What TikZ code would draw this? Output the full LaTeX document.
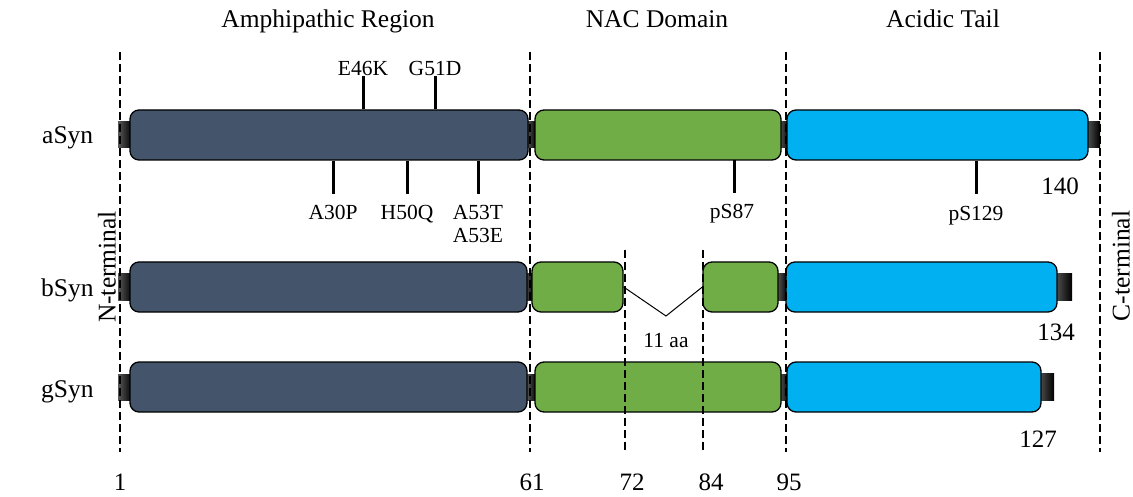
\documentclass[tikz,border=0pt]{standalone}
\usepackage{fontspec}
\setmainfont{Liberation Serif}
\usetikzlibrary{calc}
\definecolor{slate}{HTML}{44546A}
\definecolor{nacgreen}{HTML}{70AD47}
\definecolor{tailblue}{HTML}{00B0F0}
\begin{document}
\begin{tikzpicture}[x=1pt,y=-1pt,
  bar/.style={draw=black, line width=1.3pt, rounded corners=9pt, inner sep=0pt, minimum height=50pt},
  capbox/.style={inner sep=0pt, minimum height=26pt, left color=black!65, right color=black, draw=none},
  ticker/.style={line width=3pt},
  vline/.style={dash pattern=on 8pt off 4pt, line width=1.8pt},
  big/.style={font=\fontsize{25.5}{30}\selectfont, inner sep=0pt},
  num/.style={font=\fontsize{25}{30}\selectfont, inner sep=0pt, anchor=base},
  small/.style={font=\fontsize{21.5}{23}\selectfont, inner sep=0pt, anchor=base},
]
\useasboundingbox (0,0) rectangle (1133,497);

% headers
\node[big, anchor=base] (hA) at (328,28) {Amphipathic Region};
\node[big, anchor=base] (hN) at (657,28) {NAC Domain};
\node[big, anchor=base] (hT) at (943,28) {Acidic Tail};

% row labels
\node[big, anchor=base west] (la) at (42,144) {aSyn};
\node[big, anchor=base west] (lb) at (41,297) {bSyn};
\node[big, anchor=base west] (lg) at (41,397) {gSyn};

% aSyn
\node[capbox, minimum width=14pt] (aL) at (125,135) {};
\node[capbox, minimum width=10pt] (aC1) at (531.5,135) {};
\node[capbox, minimum width=10pt] (aC2) at (784,135) {};
\node[capbox, minimum width=14pt] (aR) at (1093,135) {};
\node[bar, fill=slate, minimum width=398pt] (a1) at (329,135) {};
\node[bar, fill=nacgreen, minimum width=246pt] (a2) at (658,135) {};
\node[bar, fill=tailblue, minimum width=301pt] (a3) at (937.5,135) {};

% bSyn
\node[capbox, minimum width=14pt] (bL) at (125,287) {};
\node[capbox, minimum width=10pt] (bC1) at (529.5,287) {};
\node[capbox, minimum width=10pt] (bC2) at (782,287) {};
\node[capbox, minimum width=18pt, minimum height=27pt] (bR) at (1063,287) {};
\node[bar, fill=slate, minimum width=397pt] (b1) at (328.5,287) {};
\node[bar, fill=nacgreen, minimum width=91pt] (b2) at (577.5,287) {};
\node[bar, fill=nacgreen, minimum width=75pt] (b3) at (740.5,287) {};
\node[bar, fill=tailblue, minimum width=271pt] (b4) at (921.5,287) {};

% gSyn
\node[capbox, minimum width=14pt] (gL) at (125,387) {};
\node[capbox, minimum width=10pt] (gC1) at (531.5,387) {};
\node[capbox, minimum width=10pt] (gC2) at (784,387) {};
\node[capbox, minimum width=16pt, minimum height=27pt] (gR) at (1046,387) {};
\node[bar, fill=slate, minimum width=397pt] (g1) at (328.5,387) {};
\node[bar, fill=nacgreen, minimum width=246pt] (g2) at (658,387) {};
\node[bar, fill=tailblue, minimum width=254pt] (g3) at (914,387) {};

% deletion
\coordinate (vtip) at (666,316);
\draw[line width=1pt] (b2.east) -- (vtip) -- (b3.west);
\node[small] (del) at (666,347) {11 aa};

% mutation labels above
\node[small] (e46k) at (363,76) {E46K};
\node[small] (g51d) at (435,76) {G51D};
\draw[ticker] (a1.north -| e46k) -- ++(0,-33);
\draw[ticker] (a1.north -| g51d) -- ++(0,-33);

% mutation labels below
\node[small] (a30p) at (333,220) {A30P};
\node[small] (h50q) at (407,220) {H50Q};
\node[small] (a53t) at (478,220) {A53T};
\node[small] (a53e) at (478,243) {A53E};
\node[small] (ps87) at (732,219) {pS87};
\node[small] (ps129) at (976,221) {pS129};
\draw[ticker] (a1.south -| a30p) -- ++(0,33);
\draw[ticker] (a1.south -| h50q) -- ++(0,33);
\draw[ticker] (a1.south -| a53t) -- ++(0,33);
\draw[ticker] (734,160) -- ++(0,33);
\draw[ticker] (a3.south -| ps129) -- ++(0,33);

% lengths
\node[num] (n140) at (1060,195) {140};
\node[num] (n134) at (1056,340) {134};
\node[num] (n127) at (1038,447) {127};

% dashed guides
\draw[vline] (120,52) -- (120,452);
\draw[vline] (530,52) -- (530,452);
\draw[vline] (625,250) -- (625,452);
\draw[vline] (703,250) -- (703,452);
\draw[vline] (786,52) -- (786,452);
\draw[vline] (1100,52) -- (1100,452);

% terminal labels
\node[big, rotate=90] (nt) at (107,267) {N-terminal};
\node[big, rotate=90] (ct) at (1121,266) {C-terminal};

% positions
\node[num] (p1) at (120,490) {1};
\node[num] (p61) at (532,490) {61};
\node[num] (p72) at (632,490) {72};
\node[num] (p84) at (711,490) {84};
\node[num] (p95) at (789,490) {95};
\end{tikzpicture}
\end{document}
